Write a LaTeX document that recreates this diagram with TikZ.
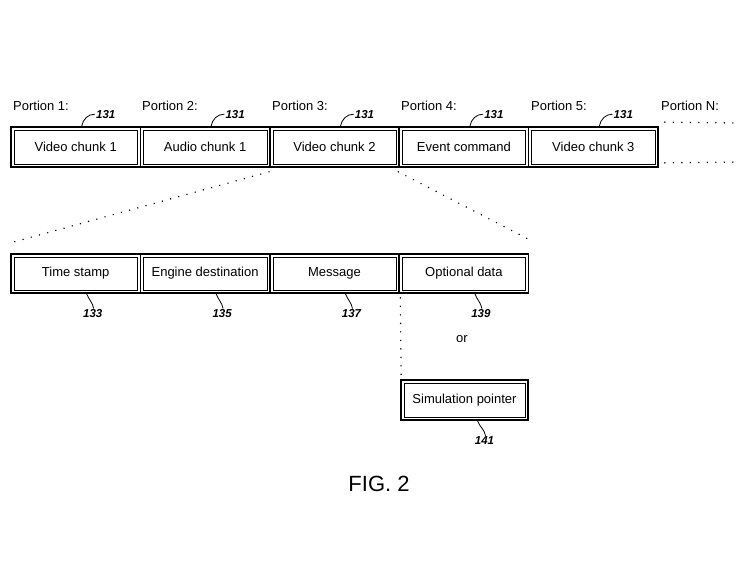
\documentclass[tikz,border=0pt]{standalone}
\usepackage{fontspec}
\setmainfont{Liberation Sans}
\begin{document}
\begin{tikzpicture}[x=1pt,y=-1pt,
  cell/.style={draw=black, line width=1.7pt, minimum width=129.4pt, minimum height=40pt,
    inner sep=0pt, font=\fontsize{13}{15}\selectfont,
    path picture={\draw[line width=0.6pt]
      ([shift={(3pt,-3pt)}]path picture bounding box.north west) rectangle
      ([shift={(-3pt,3pt)}]path picture bounding box.south east);}},
  portion/.style={anchor=base west, font=\fontsize{13}{15}\selectfont, inner sep=0pt},
  refnum/.style={font=\fontsize{11.5}{13}\bfseries\itshape, inner sep=1pt},
  leader/.style={line width=0.8pt},
  dots/.style={line width=1.6pt, line cap=round, dash pattern=on 0pt off 8.5pt}
]
\useasboundingbox (0,0) rectangle (749,571);

% top row
\node[cell] (p1) at (75.7,147) {Video chunk 1};
\node[cell] (p2) at (205.1,147) {Audio chunk 1};
\node[cell] (p3) at (334.5,147) {Video chunk 2};
\node[cell] (p4) at (463.9,147) {Event command};
\node[cell] (p5) at (593.3,147) {Video chunk 3};

\node[portion] (t1) at (13,110) {Portion 1:};
\node[portion] (t2) at (142,110) {Portion 2:};
\node[portion] (t3) at (272,110) {Portion 3:};
\node[portion] (t4) at (401,110) {Portion 4:};
\node[portion] (t5) at (531,110) {Portion 5:};
\node[portion] (tN) at (661,110) {Portion N:};

\foreach \i in {1,...,5}{
  \node[refnum] (r\i) at ([xshift=30pt,yshift=12pt]p\i.north) {131};
  \draw[leader] ([xshift=6pt]p\i.north) to[out=80,in=180] (r\i.west);
}

% continuation dots
\coordinate (ctop) at (738,123);
\coordinate (cbot) at (738,162);
\draw[dots] ([xshift=6pt,yshift=4pt]p5.north east) -- (ctop);
\draw[dots] ([xshift=6pt,yshift=5pt]p5.south east) -- (cbot);

% fan lines
\coordinate (fanL) at (10,243);
\coordinate (fanR) at (530,240);
\draw[dots] ([yshift=-4pt]p3.south west) -- (fanL);
\draw[dots] ([yshift=-4pt]p4.south west) -- (fanR);

% middle row
\node[cell, minimum height=39pt] (m1) at (75.7,273.5) {Time stamp};
\node[cell, minimum height=39pt] (m2) at (205.1,273.5) {Engine destination};
\node[cell, minimum height=39pt] (m3) at (334.5,273.5) {Message};
\node[cell, minimum height=39pt] (m4) at (463.9,273.5) {Optional data};

\node[refnum] (r133) at ([xshift=17pt,yshift=-20pt]m1.south) {133};
\node[refnum] (r135) at ([xshift=17pt,yshift=-20pt]m2.south) {135};
\node[refnum] (r137) at ([xshift=17pt,yshift=-20pt]m3.south) {137};
\node[refnum] (r139) at ([xshift=17pt,yshift=-20pt]m4.south) {139};
\foreach \m/\r in {m1/r133,m2/r135,m3/r137,m4/r139}{
  \draw[leader] ([xshift=11pt]\m.south) to[out=-70,in=100] ([xshift=1pt]\r.north);
}

\node[font=\fontsize{13}{15}\selectfont] (or) at (462,339) {or};

% simulation pointer
\node[cell, minimum width=127pt] (sp) at (464.5,400) {Simulation pointer};
\node[refnum] (r141) at ([xshift=20pt,yshift=-20pt]sp.south) {141};
\draw[leader] ([xshift=13pt]sp.south) to[out=-70,in=100] ([xshift=1pt]r141.north);

\draw[dots] ([xshift=2pt,yshift=-4pt]m4.south west) -- ([xshift=1pt,yshift=2pt]sp.north west);

\node[font=\fontsize{22}{26}\selectfont] (fig) at (379,484) {FIG. 2};
\end{tikzpicture}
\end{document}
